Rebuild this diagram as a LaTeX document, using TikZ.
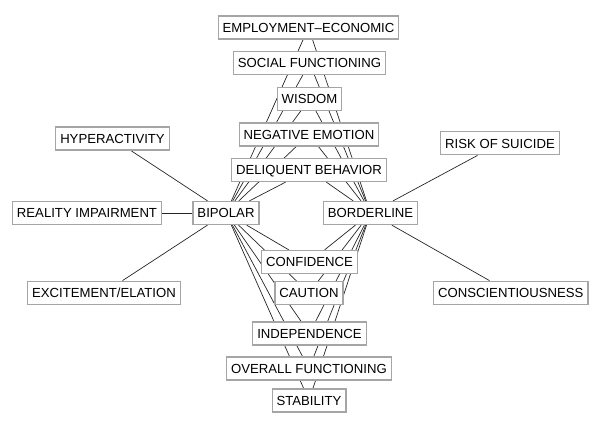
\documentclass[tikz,border=0pt]{standalone}
\usepackage{fontspec}
\setmainfont{Liberation Sans}
\usetikzlibrary{backgrounds}
\definecolor{boxgray}{RGB}{165,165,165}

\begin{document}
\begin{tikzpicture}[x=1bp,y=-1bp,
    trait/.style={draw=boxgray,line width=1.2bp,fill=white,inner xsep=4.5bp,inner ysep=0pt,
      minimum height=23bp,text height=9.5bp,text depth=0pt,font=\fontsize{13.2}{15}\selectfont},
    link/.style={draw=black!85,line width=0.7bp}]
    \useasboundingbox (0,0) rectangle (600,425);
       \node [trait] (bip) at (226,213) {BIPOLAR};
       \node [trait] (bord) at (370.5,213) {BORDERLINE};
       \node [trait] (emp) at (308.5,27.5) {EMPLOYMENT\textendash ECONOMIC};
       \node [trait] (soc) at (309.5,63) {SOCIAL FUNCTIONING};
       \node [trait] (wis) at (309.5,99) {WISDOM};
       \node [trait] (neg) at (309,134.5) {NEGATIVE EMOTION};
       \node [trait] (del) at (309,170) {DELIQUENT BEHAVIOR};
       \node [trait] (conf) at (309.5,262) {CONFIDENCE};
       \node [trait] (caut) at (309,293) {CAUTION};
       \node [trait] (indep) at (309.5,333.5) {INDEPENDENCE};
       \node [trait] (overall) at (309,368.5) {OVERALL FUNCTIONING};
       \node [trait] (stab) at (309,400.5) {STABILITY};
       \node [trait] (hyp) at (112.5,138.5) {HYPERACTIVITY};
       \node [trait] (real) at (87,213) {REALITY IMPAIRMENT};
       \node [trait] (exc) at (104,292.7) {EXCITEMENT/ELATION};
       \node [trait] (risk) at (500,143.3) {RISK OF SUICIDE};
       \node [trait] (consc) at (510.8,292.7) {CONSCIENTIOUSNESS};
    \begin{scope}[on background layer]
        \path[link]
        (bip) edge (hyp) edge (real) edge (exc)
              edge (emp) edge (soc) edge (wis) edge (neg) edge (del)
              edge (conf) edge (caut) edge (indep) edge (overall) edge (stab)
        (bord) edge (risk) edge (consc)
              edge (emp) edge (soc) edge (wis) edge (neg) edge (del)
              edge (conf) edge (caut) edge (indep) edge (overall) edge (stab);
    \end{scope}
\end{tikzpicture}
\end{document}
